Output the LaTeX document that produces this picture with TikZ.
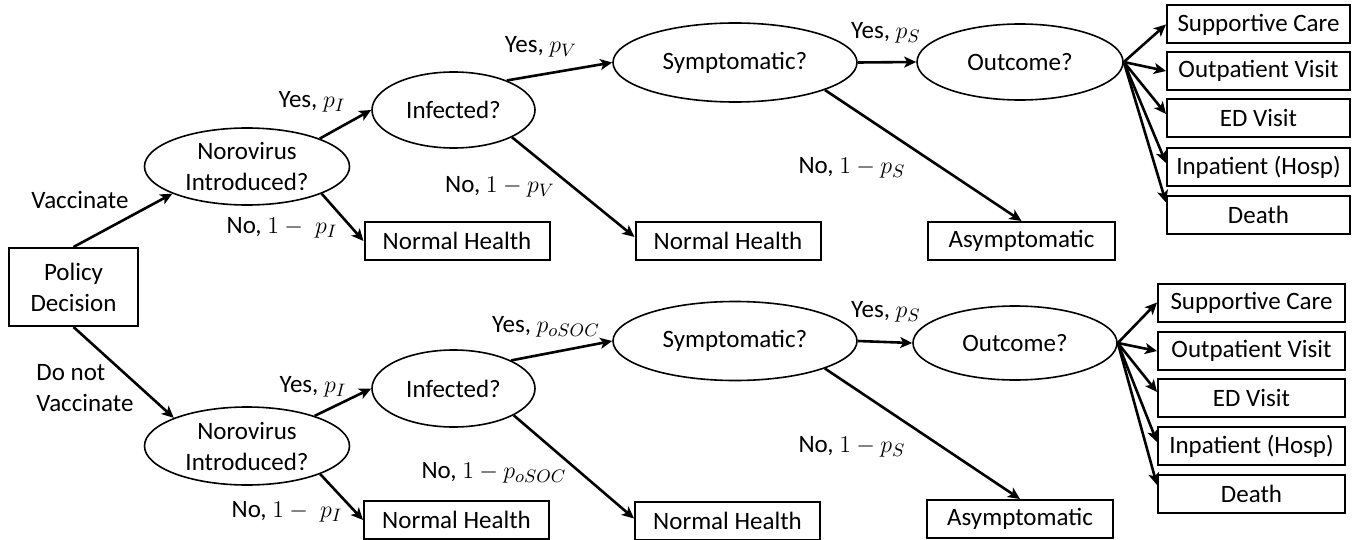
\documentclass[tikz,border=0pt]{standalone}
\usepackage{fontspec}
\setmainfont{Carlito}
\usetikzlibrary{shapes.geometric,arrows.meta,calc}
\begin{document}
\begin{tikzpicture}[x=0.5pt,y=-0.5pt,
  font=\fontsize{12.5}{15.5}\selectfont,
  box/.style={draw, line width=1pt, inner sep=0pt, minimum height=19pt, minimum width=#1},
  box/.default=92.5pt,
  chance/.style 2 args={ellipse, draw, line width=0.8pt, inner sep=0pt, minimum width=#1, minimum height=#2},
  arr/.style={-{Stealth[length=6pt,width=5.5pt,inset=1.5pt]}, line width=1.3pt},
  lab/.style={inner sep=0pt}]
\fill[white] (0,0) rectangle (1359,540);
\useasboundingbox (0,0) rectangle (1359,540);

% decision
\node[draw, line width=1pt, inner sep=0pt, minimum width=64.5pt, minimum height=39pt, align=center] (pol) at (73.5,287) {Policy\\Decision};

% ---------- top branch ----------
\node[chance={102.5pt}{38.5pt}, inner ysep=-10pt, align=center] (nor1) at (247,166.5) {Norovirus\\Introduced?};
\node[chance={81.5pt}{38pt}] (inf1) at (453.5,110) {Infected?};
\node[chance={122pt}{39.5pt}] (sym1) at (735,62.5) {Symptomatic?};
\node[chance={103pt}{38pt}] (out1) at (1020,62) {Outcome?};
\node[box] (nh1) at (457,241) {Normal Health};
\node[box] (nhm1) at (728,241) {Normal Health};
\node[box=93.5pt] (asym1) at (1021.5,241) {Asymptomatic};
\node[box=91.5pt] (sc1) at (1258.5,24.5) {Supportive Care};
\node[box=91.5pt] (ov1) at (1258.5,71) {Outpatient Visit};
\node[box=91.5pt] (ed1) at (1258.5,118) {ED Visit};
\node[box=91.5pt] (ip1) at (1258.5,167) {Inpatient (Hosp)};
\node[box=91.5pt] (de1) at (1258.5,214.5) {Death};

% ---------- bottom branch ----------
\node[chance={102.5pt}{39pt}, inner ysep=-10pt, align=center] (nor2) at (247,446) {Norovirus\\Introduced?};
\node[chance={81.5pt}{38.5pt}] (inf2) at (453.5,388.5) {Infected?};
\node[chance={122pt}{39.5pt}] (sym2) at (735,341) {Symptomatic?};
\node[chance={102pt}{37pt}] (out2) at (1015,343) {Outcome?};
\node[box] (nh2) at (456.5,520) {Normal Health};
\node[box] (nhm2) at (727.5,520.5) {Normal Health};
\node[box=93pt] (asym2) at (1020,519) {Asymptomatic};
\node[box=93.5pt] (sc2) at (1251.5,302.5) {Supportive Care};
\node[box=93.5pt] (ov2) at (1251.5,351) {Outpatient Visit};
\node[box=93.5pt] (ed2) at (1251.5,398) {ED Visit};
\node[box=93.5pt] (ip2) at (1251.5,446) {Inpatient (Hosp)};
\node[box=93.5pt] (de2) at (1251.5,494) {Death};

% ---------- connectors ----------
\draw[arr] (pol.north) -- (nor1.200);
\draw[arr] (pol.south) -- (nor2.159);

\draw[arr] (nor1.21) -- (inf1.west);
\draw[arr] (nor1.-20) -- (nh1.west);
\draw[arr] (inf1.29) -- (sym1.west);
\draw[arr] (inf1.-25.5) -- ([yshift=2pt]nhm1.west);
\draw[arr] (sym1.east) -- (out1.west);
\draw[arr] (sym1.-17.5) -- (asym1.north);
\draw[arr] (out1.east) -- (sc1.west);
\draw[arr] (out1.east) -- (ov1.west);
\draw[arr] (out1.east) -- ([yshift=2pt]ed1.west);
\draw[arr] (out1.east) -- ([yshift=2pt]ip1.west);
\draw[arr] (out1.east) -- ([yshift=6pt]de1.west);

\draw[arr] (nor2.24) -- (inf2.west);
\draw[arr] (nor2.-21.7) -- (nh2.west);
\draw[arr] (inf2.26.8) -- (sym2.west);
\draw[arr] (inf2.-24.5) -- ([yshift=1pt]nhm2.west);
\draw[arr] (sym2.east) -- (out2.west);
\draw[arr] (sym2.-17.5) -- (asym2.north);
\draw[arr] (out2.east) -- (sc2.west);
\draw[arr] (out2.east) -- (ov2.west);
\draw[arr] (out2.east) -- ([yshift=3pt]ed2.west);
\draw[arr] (out2.east) -- ([yshift=2pt]ip2.west);
\draw[arr] (out2.east) -- ([yshift=4.5pt]de2.west);

% ---------- labels ----------
\node[lab] (lvac) at (80,200) {Vaccinate};
\node[lab, align=left] (lnovac) at (85,388) {Do not\\Vaccinate};

\node[lab] (ly1) at (312,102) {Yes, $p_I$};
\node[lab] (ln1) at (282,228) {No, $1-\;p_I$};
\node[lab] (lyv) at (541,47) {Yes, $p_V$};
\node[lab] (lnv) at (500,187) {No, $1-p_V$};
\node[lab] (lys1) at (886,33) {Yes, $p_S$};
\node[lab] (lns1) at (852,168) {No, $1-p_S$};

\node[lab] (ly2) at (313,387) {Yes, $p_I$};
\node[lab] (ln2) at (287,512) {No, $1-\;p_I$};
\node[lab] (lyo) at (546,327) {Yes, $p_{oSOC}$};
\node[lab] (lno) at (494,473) {No, $1-p_{oSOC}$};
\node[lab] (lys2) at (886,312) {Yes, $p_S$};
\node[lab] (lns2) at (852,447) {No, $1-p_S$};
\end{tikzpicture}
\end{document}
